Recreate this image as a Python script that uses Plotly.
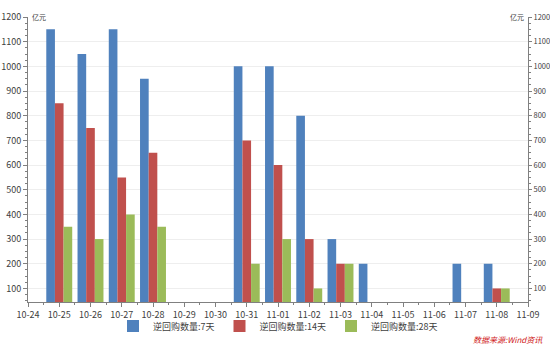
import plotly.graph_objects as go

dates = ["2016-10-25", "2016-10-26", "2016-10-27", "2016-10-28", "2016-10-31",
         "2016-11-01", "2016-11-02", "2016-11-03", "2016-11-04", "2016-11-07", "2016-11-08"]
repo_7d = [1150, 1050, 1150, 950, 1000, 1000, 800, 300, 200, 200, 200]
repo_14d = [850, 750, 550, 650, 700, 600, 300, 200, 0, 0, 100]
repo_28d = [350, 300, 400, 350, 200, 300, 100, 200, 0, 0, 100]
series_names = ["逆回购数量:7天", "逆回购数量:14天", "逆回购数量:28天"]
colors = ["#4F81BD", "#C0504D", "#9BBB59"]

FONT = "Noto Sans CJK SC"
fig = go.Figure()
for name, vals, c in zip(series_names, [repo_7d, repo_14d, repo_28d], colors):
    fig.add_trace(go.Bar(x=dates, y=vals, name=name, marker=dict(color=c, line=dict(width=0))))
fig.add_trace(go.Scatter(x=[dates[0]], y=[None], yaxis="y2", showlegend=False, hoverinfo="skip"))

yax = dict(range=[45, 1200], tickvals=list(range(100, 1201, 100)), showgrid=True,
           gridcolor="#EEEEEE", gridwidth=1, showline=True, linecolor="#808080", linewidth=1,
           ticks="outside", ticklen=4, tickcolor="#808080", automargin=False,
           minor=dict(dtick=25, ticks="outside", ticklen=2, tickcolor="#808080", showgrid=False),
           tickfont=dict(size=9, color="#404040", family=FONT), zeroline=False)
yax2 = dict(yax, overlaying="y", side="right", matches="y", showgrid=False, ticklen=3,
            tickfont=dict(size=7.5, color="#404040", family=FONT))
fig.update_layout(
    width=550, height=344,
    margin=dict(l=28, r=22, t=17, b=42, autoexpand=False),
    paper_bgcolor="white", plot_bgcolor="white",
    barmode="group", bargap=0.17, bargroupgap=0,
    font=dict(family=FONT, size=9, color="#404040"),
    xaxis=dict(type="date", range=["2016-10-24", "2016-11-09"], dtick=86400000,
               tick0="2016-10-24", tickformat="%m-%d", showline=True, linecolor="#808080",
               ticks="outside", ticklen=4, tickcolor="#808080", showgrid=False, automargin=False,
               minor=dict(dtick=43200000, ticks="outside", ticklen=2, tickcolor="#808080"),
               tickfont=dict(size=9, color="#404040", family=FONT)),
    yaxis=yax,
    yaxis2=yax2,
    legend=dict(orientation="h", x=0.5, xanchor="center", yref="container", y=0.052,
                yanchor="middle", font=dict(size=9, color="#404040", family=FONT), itemwidth=30,
                traceorder="normal", bgcolor="rgba(0,0,0,0)"),
    showlegend=True,
)
fig.add_annotation(text="亿元", xref="paper", yref="paper", x=0, y=1, xanchor="left",
                   yanchor="middle", xshift=2, showarrow=False, font=dict(size=7, color="#404040"))
fig.add_annotation(text="亿元", xref="paper", yref="paper", x=1, y=1, xanchor="right",
                   yanchor="middle", xshift=-2, showarrow=False, font=dict(size=7, color="#404040"))
fig.add_annotation(text="<i>数据来源:Wind资讯</i>", xref="paper", yref="paper", x=1.034, y=-0.13,
                   xanchor="right", yanchor="middle", showarrow=False,
                   font=dict(size=8, color="#D02020"))
fig.write_html("out.html")
